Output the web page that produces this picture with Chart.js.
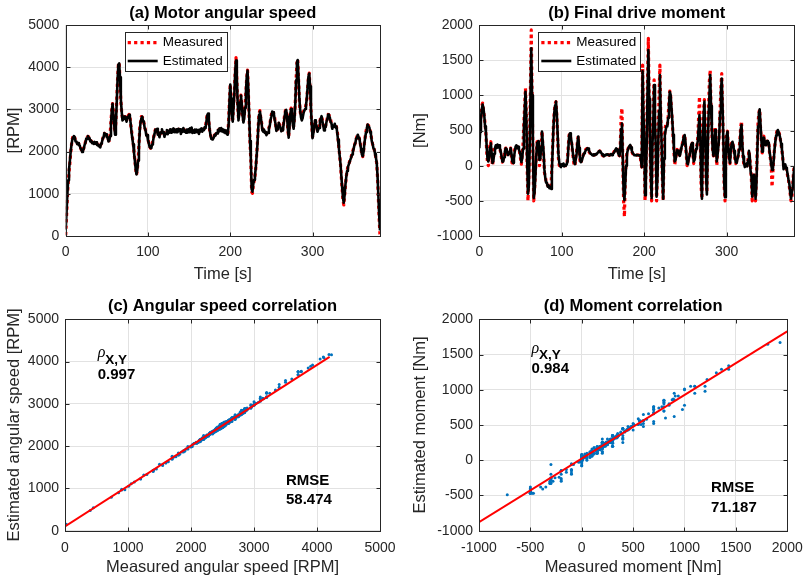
<!DOCTYPE html>
<html>
<head>
<meta charset="utf-8">
<script src="https://cdn.jsdelivr.net/npm/chart.js@4.4.1/dist/chart.umd.min.js"></script>
<style>
  html, body { margin: 0; padding: 0; background: #fff; }
  #wrap { position: relative; width: 812px; height: 579px; background: #fff; }
  #wrap canvas { position: absolute; }
</style>
</head>
<body>
<div id="wrap">
  <canvas id="chartA" width="406" height="290" style="left:0;top:0"></canvas>
  <canvas id="chartB" width="406" height="290" style="left:406px;top:0"></canvas>
  <canvas id="chartC" width="406" height="289" style="left:0;top:290px"></canvas>
  <canvas id="chartD" width="406" height="289" style="left:406px;top:290px"></canvas>
</div>
<script>
// ---- data (1 s samples) ----

const sampleTime = [
  0, 1, 2, 3, 4, 5, 6, 7, 8, 9, 10, 11, 12, 13, 14, 15, 16, 17, 18, 19,
  20, 21, 22, 23, 24, 25, 26, 27, 28, 29, 30, 31, 32, 33, 34, 35, 36, 37, 38, 39,
  40, 41, 42, 43, 44, 45, 46, 47, 48, 49, 50, 51, 52, 53, 54, 55, 56, 57, 58, 59,
  60, 61, 62, 63, 64, 65, 66, 67, 68, 69, 70, 71, 72, 73, 74, 75, 76, 77, 78, 79,
  80, 81, 82, 83, 84, 85, 86, 87, 88, 89, 90, 91, 92, 93, 94, 95, 96, 97, 98, 99,
  100, 101, 102, 103, 104, 105, 106, 107, 108, 109, 110, 111, 112, 113, 114, 115, 116, 117, 118, 119,
  120, 121, 122, 123, 124, 125, 126, 127, 128, 129, 130, 131, 132, 133, 134, 135, 136, 137, 138, 139,
  140, 141, 142, 143, 144, 145, 146, 147, 148, 149, 150, 151, 152, 153, 154, 155, 156, 157, 158, 159,
  160, 161, 162, 163, 164, 165, 166, 167, 168, 169, 170, 171, 172, 173, 174, 175, 176, 177, 178, 179,
  180, 181, 182, 183, 184, 185, 186, 187, 188, 189, 190, 191, 192, 193, 194, 195, 196, 197, 198, 199,
  200, 201, 202, 203, 204, 205, 206, 207, 208, 209, 210, 211, 212, 213, 214, 215, 216, 217, 218, 219,
  220, 221, 222, 223, 224, 225, 226, 227, 228, 229, 230, 231, 232, 233, 234, 235, 236, 237, 238, 239,
  240, 241, 242, 243, 244, 245, 246, 247, 248, 249, 250, 251, 252, 253, 254, 255, 256, 257, 258, 259,
  260, 261, 262, 263, 264, 265, 266, 267, 268, 269, 270, 271, 272, 273, 274, 275, 276, 277, 278, 279,
  280, 281, 282, 283, 284, 285, 286, 287, 288, 289, 290, 291, 292, 293, 294, 295, 296, 297, 298, 299,
  300, 301, 302, 303, 304, 305, 306, 307, 308, 309, 310, 311, 312, 313, 314, 315, 316, 317, 318, 319,
  320, 321, 322, 323, 324, 325, 326, 327, 328, 329, 330, 331, 332, 333, 334, 335, 336, 337, 338, 339,
  340, 341, 342, 343, 344, 345, 346, 347, 348, 349, 350, 351, 352, 353, 354, 355, 356, 357, 358, 359,
  360, 361, 362, 363, 364, 365, 366, 367, 368, 369, 370, 371, 372, 373, 374, 375, 376, 377, 378, 379,
  380, 381, 382
];

// (a) motor angular speed [RPM]
const speedMeasured = [
  /*0*/   20, 450, 900, 1250, 1500, 1700, 1950, 2150, 2300, 2370,
  /*10*/  2390, 2330, 2260, 2230, 2200, 2190, 2180, 2140, 2100, 2040,
  /*20*/  2000, 2020, 2090, 2150, 2230, 2300, 2330, 2360, 2350, 2310,
  /*30*/  2270, 2250, 2230, 2210, 2210, 2220, 2210, 2210, 2190, 2160,
  /*40*/  2150, 2130, 2130, 2180, 2250, 2300, 2380, 2430, 2420, 2400,
  /*50*/  2380, 2330, 2280, 2260, 2420, 2700, 3000, 3140, 2850, 2600,
  /*60*/  2450, 2700, 3200, 3700, 4050, 4110, 3700, 3200, 2950, 2790,
  /*70*/  2800, 2820, 2830, 2780, 2760, 2800, 2850, 2880, 2850, 2650,
  /*80*/  2500, 2350, 2200, 2000, 1800, 1600, 1450, 1550, 1800, 2150,
  /*90*/  2550, 2700, 2830, 2820, 2760, 2680, 2600, 2500, 2420, 2380,
  /*100*/ 2290, 2200, 2130, 2080, 2100, 2180, 2250, 2350, 2450, 2520,
  /*110*/ 2550, 2520, 2450, 2400, 2380, 2420, 2460, 2490, 2500, 2450,
  /*120*/ 2400, 2400, 2440, 2460, 2470, 2480, 2480, 2490, 2500, 2500,
  /*130*/ 2510, 2520, 2520, 2500, 2490, 2490, 2510, 2530, 2530, 2500,
  /*140*/ 2480, 2480, 2500, 2520, 2520, 2490, 2470, 2470, 2490, 2510,
  /*150*/ 2510, 2520, 2530, 2530, 2500, 2480, 2480, 2490, 2510, 2510,
  /*160*/ 2490, 2470, 2470, 2500, 2520, 2520, 2530, 2530, 2530, 2560,
  /*170*/ 2600, 2750, 2870, 2890, 2700, 2500, 2400, 2340, 2340, 2350,
  /*180*/ 2360, 2390, 2410, 2430, 2470, 2500, 2520, 2530, 2540, 2540,
  /*190*/ 2520, 2510, 2500, 2490, 2480, 2480, 2450, 2420, 2700, 3200,
  /*200*/ 3600, 3200, 2850, 2760, 3100, 3400, 3900, 4230, 3700, 3100,
  /*210*/ 2790, 2950, 3200, 3340, 3100, 2850, 2740, 2850, 3070, 3400,
  /*220*/ 3750, 3930, 3400, 2800, 2200, 1800, 1050, 1010, 1200, 1300,
  /*230*/ 1400, 1600, 1900, 2200, 2600, 2900, 2970, 2820, 2700, 2560,
  /*240*/ 2510, 2500, 2480, 2450, 2430, 2440, 2480, 2550, 2650, 2760,
  /*250*/ 2880, 2960, 2960, 2870, 2800, 2650, 2530, 2520, 2600, 2670,
  /*260*/ 2640, 2570, 2530, 2510, 2540, 2700, 2850, 2970, 3000, 2800,
  /*270*/ 2500, 2350, 2650, 2950, 3030, 2850, 2650, 2590, 2800, 3150,
  /*280*/ 3700, 4100, 4190, 3700, 3200, 2950, 2830, 2790, 2850, 2950,
  /*290*/ 3000, 3030, 3100, 3250, 3500, 3750, 3860, 3500, 3000, 2650,
  /*300*/ 2350, 2450, 2600, 2750, 2700, 2600, 2520, 2520, 2600, 2720,
  /*310*/ 2820, 2830, 2750, 2620, 2550, 2560, 2620, 2700, 2800, 2880,
  /*320*/ 2870, 2800, 2750, 2660, 2590, 2600, 2640, 2650, 2620, 2590,
  /*330*/ 2500, 2300, 2100, 1900, 1700, 1400, 1100, 850, 735, 950,
  /*340*/ 1200, 1400, 1550, 1640, 1700, 1760, 1820, 1880, 1950, 2020,
  /*350*/ 2080, 2150, 2220, 2300, 2360, 2390, 2370, 2300, 2200, 2050,
  /*360*/ 1920, 1880, 2000, 2200, 2350, 2480, 2580, 2630, 2620, 2570,
  /*370*/ 2500, 2400, 2270, 2180, 2100, 2050, 1950, 1850, 1720, 1400,
  /*380*/ 900, 400, 0
];
const speedEstimated = [
  /*0*/   150, 540, 980, 1320, 1570, 1760, 1990, 2160, 2280, 2340,
  /*10*/  2370, 2340, 2240, 2240, 2180, 2200, 2150, 2150, 2080, 2050,
  /*20*/  1990, 2030, 2070, 2160, 2210, 2310, 2300, 2370, 2320, 2320,
  /*30*/  2240, 2260, 2200, 2220, 2180, 2230, 2190, 2220, 2160, 2170,
  /*40*/  2130, 2140, 2100, 2190, 2220, 2310, 2340, 2440, 2390, 2410,
  /*50*/  2340, 2340, 2240, 2270, 2370, 2660, 2970, 3130, 2890, 2620,
  /*60*/  2400, 2630, 3150, 3690, 4060, 4090, 3760, 3250, 2960, 2740,
  /*70*/  2760, 2830, 2780, 2800, 2710, 2820, 2800, 2870, 2810, 2670,
  /*80*/  2460, 2310, 2170, 1980, 1790, 1600, 1460, 1560, 1790, 2110,
  /*90*/  2500, 2690, 2790, 2830, 2720, 2690, 2560, 2510, 2380, 2390,
  /*100*/ 2270, 2200, 2110, 2090, 2080, 2170, 2230, 2350, 2420, 2520,
  /*110*/ 2520, 2540, 2400, 2410, 2340, 2450, 2440, 2530, 2440, 2470,
  /*120*/ 2350, 2430, 2420, 2510, 2410, 2490, 2450, 2530, 2450, 2520,
  /*130*/ 2470, 2550, 2460, 2520, 2460, 2530, 2460, 2540, 2490, 2530,
  /*140*/ 2420, 2500, 2470, 2560, 2470, 2500, 2450, 2520, 2450, 2530,
  /*150*/ 2460, 2550, 2510, 2570, 2440, 2500, 2450, 2520, 2460, 2520,
  /*160*/ 2460, 2510, 2420, 2520, 2480, 2550, 2470, 2540, 2510, 2580,
  /*170*/ 2560, 2710, 2860, 2900, 2740, 2520, 2380, 2300, 2290, 2310,
  /*180*/ 2330, 2400, 2380, 2440, 2430, 2510, 2470, 2550, 2490, 2560,
  /*190*/ 2480, 2530, 2460, 2510, 2440, 2500, 2410, 2400, 2640, 3160,
  /*200*/ 3590, 3260, 2860, 2710, 3060, 3380, 3890, 4160, 3760, 3160,
  /*210*/ 2740, 2900, 3170, 3330, 3130, 2860, 2690, 2800, 3040, 3390,
  /*220*/ 3760, 3920, 3460, 2850, 2250, 1840, 1110, 1050, 1230, 1330,
  /*230*/ 1430, 1610, 1880, 2160, 2540, 2870, 2950, 2840, 2680, 2510,
  /*240*/ 2470, 2520, 2440, 2470, 2390, 2450, 2440, 2560, 2610, 2750,
  /*250*/ 2840, 2950, 2930, 2890, 2760, 2660, 2490, 2530, 2560, 2680,
  /*260*/ 2610, 2580, 2480, 2530, 2500, 2680, 2810, 2960, 2990, 2830,
  /*270*/ 2540, 2330, 2580, 2900, 3010, 2880, 2660, 2540, 2750, 3120,
  /*280*/ 3690, 4110, 4170, 3760, 3260, 2980, 2810, 2740, 2800, 2910,
  /*290*/ 2970, 3010, 3090, 3250, 3510, 3770, 3850, 3550, 3050, 2670,
  /*300*/ 2320, 2440, 2560, 2740, 2660, 2610, 2470, 2530, 2560, 2720,
  /*310*/ 2780, 2840, 2710, 2630, 2500, 2570, 2580, 2710, 2760, 2880,
  /*320*/ 2840, 2810, 2700, 2670, 2540, 2610, 2590, 2660, 2570, 2600,
  /*330*/ 2450, 2280, 2090, 1900, 1710, 1430, 1150, 900, 790, 970,
  /*340*/ 1220, 1400, 1540, 1630, 1690, 1750, 1810, 1860, 1930, 1990,
  /*350*/ 2070, 2160, 2200, 2310, 2330, 2400, 2340, 2310, 2180, 2060,
  /*360*/ 1930, 1890, 1990, 2190, 2330, 2460, 2560, 2640, 2590, 2580,
  /*370*/ 2470, 2410, 2250, 2190, 2080, 2060, 1940, 1860, 1740, 1430,
  /*380*/ 960, 480, 130
];

// (b) final drive moment [Nm]
const momentMeasured = [
  /*0*/   400, 600, 700, 850, 890, 800, 700, 600, 450, 200,
  /*10*/  30, 0, 150, 300, 340, 120, 0, 100, 200, 270,
  /*20*/  280, 280, 280, 280, 280, 240, 180, 100, 50, 90,
  /*30*/  150, 220, 250, 220, 170, 130, 180, 210, 250, 120,
  /*40*/  0, 80, 150, 230, 280, 275, 270, 260, 250, 180,
  /*50*/  100, 20, 150, 300, 600, 850, 1100, 700, 0, -500,
  /*60*/  -200, 300, 1100, 1930, 1000, 200, -500, -350, -100, 150,
  /*70*/  340, 345, 340, 0, 150, 300, 490, 300, 150, -100,
  /*80*/  -150, -220, -260, -280, -300, -310, -310, -310, 0, 300,
  /*90*/  600, 780, 880, 910, 700, 400, 100, 0, 0, 0,
  /*100*/ 0, 0, 0, 0, 0, 0, 0, 100, 300, 440,
  /*110*/ 460, 380, 320, 200, 100, 0, 0, 120, 200, 340,
  /*120*/ 420, 200, 80, 30, 80, 120, 150, 176, 200, 230,
  /*130*/ 240, 247, 230, 200, 180, 160, 150, 140, 145, 150,
  /*140*/ 155, 160, 170, 180, 190, 200, 210, 190, 170, 150,
  /*150*/ 140, 140, 145, 150, 155, 160, 155, 150, 150, 155,
  /*160*/ 160, 160, 170, 190, 210, 230, 247, 220, 180, 150,
  /*170*/ 140, 300, 700, 815, 50, -500, -725, -200, 50, 175,
  /*180*/ 230, 260, 290, 294, 240, 200, 170, 160, 155, 150,
  /*190*/ 150, 150, 150, 150, 150, 150, 50, -20, 1430, 700,
  /*200*/ 300, -500, -100, 400, 1200, 1810, 900, 300, -200, -500,
  /*210*/ 400, 900, 1220, 600, 200, -500, -100, 400, 1000, 1430,
  /*220*/ 700, 300, -200, -500, 200, 500, 578, 560, 570, 700,
  /*230*/ 900, 1060, 1000, 800, 650, 400, 200, 10, 100, 180,
  /*240*/ 230, 200, 160, 150, 200, 260, 300, 360, 420, 440,
  /*250*/ 300, 150, 0, 50, 120, 150, 240, 310, 320, 150,
  /*260*/ 30, 100, 190, 250, 290, 400, 700, 980, 400, -300,
  /*270*/ -470, 300, 800, 940, 400, -200, -380, 300, 800, 1200,
  /*280*/ 1360, 800, 500, 200, 140, 300, 550, 200, 0, 200,
  /*290*/ 300, 460, 800, 1100, 1310, 800, 300, -300, -500, 200,
  /*300*/ 450, 490, 200, 80, 30, 250, 320, 340, 280, 200,
  /*310*/ 100, 30, 50, 100, 140, 250, 350, 550, 630, 250,
  /*320*/ 100, 0, 0, 10, 0, 0, 100, 210, 100, 0,
  /*330*/ -200, -500, -300, -100, -300, -500, -200, 200, 600, 750,
  /*340*/ 800, 550, 350, 180, 300, 420, 350, 280, 300, 350,
  /*350*/ 340, 330, 180, 100, 0, -300, -100, 100, 250, 350,
  /*360*/ 440, 490, 507, 480, 450, 380, 300, 220, 100, 0,
  /*370*/ 0, 10, -30, -80, -150, -200, -300, -400, -500, -480,
  /*380*/ -300, -100, 0
];
const momentEstimated = [
  /*0*/   250, 480, 660, 800, 870, 820, 720, 560, 480, 260,
  /*10*/  90, 60, 120, 260, 318, 180, 40, 60, 170, 250,
  /*20*/  290, 250, 300, 260, 290, 250, 200, 130, 57, 60,
  /*30*/  120, 200, 247, 240, 190, 150, 150, 190, 247, 170,
  /*40*/  60, 40, 110, 200, 270, 290, 250, 270, 230, 200,
  /*50*/  140, 50, 100, 240, 520, 780, 1050, 720, 80, -400,
  /*60*/  -300, 200, 950, 1670, 1000, 300, -460, -380, -150, 100,
  /*70*/  320, 341, 350, 80, 100, 260, 484, 340, 190, -60,
  /*80*/  -170, -240, -250, -300, -280, -320, -300, -330, -80, 240,
  /*90*/  560, 760, 860, 910, 740, 450, 160, 40, 0, -20,
  /*100*/ 20, 0, 30, -10, 10, 0, 20, 60, 250, 430,
  /*110*/ 460, 400, 330, 230, 130, 60, 20, 90, 170, 320,
  /*120*/ 413, 250, 120, 50, 60, 100, 140, 176, 190, 215,
  /*130*/ 230, 247, 245, 215, 190, 170, 165, 150, 145, 160,
  /*140*/ 150, 165, 160, 175, 190, 205, 210, 200, 180, 160,
  /*150*/ 145, 135, 150, 145, 160, 155, 160, 150, 145, 160,
  /*160*/ 165, 150, 165, 180, 200, 225, 247, 230, 190, 160,
  /*170*/ 140, 250, 520, 600, 100, -380, -490, -260, 0, 160,
  /*180*/ 220, 250, 280, 294, 260, 210, 180, 165, 150, 150,
  /*190*/ 145, 155, 150, 150, 145, 150, 90, -20, 1340, 760,
  /*200*/ 350, -420, -200, 300, 1050, 1645, 950, 350, -150, -460,
  /*210*/ 300, 620, 1147, 650, 250, -440, -180, 320, 780, 1290,
  /*220*/ 760, 350, -150, -470, 100, 430, 507, 560, 560, 680,
  /*230*/ 860, 1050, 1010, 830, 660, 440, 250, 60, 80, 170,
  /*240*/ 220, 210, 170, 140, 180, 250, 300, 350, 410, 436,
  /*250*/ 340, 190, 40, 20, 100, 140, 220, 300, 320, 190,
  /*260*/ 60, 80, 170, 240, 290, 350, 550, 720, 450, -200,
  /*270*/ -470, 200, 700, 910, 450, -150, -410, 200, 700, 980,
  /*280*/ 1290, 850, 520, 230, 140, 280, 507, 240, 60, 160,
  /*290*/ 280, 440, 760, 1050, 1240, 850, 350, -250, -450, 120,
  /*300*/ 430, 484, 250, 110, 40, 220, 310, 340, 290, 210,
  /*310*/ 120, 50, 40, 90, 140, 230, 330, 510, 580, 300,
  /*320*/ 130, 40, -20, 10, 30, -10, 80, 210, 130, -80,
  /*330*/ -150, -440, -330, -130, -260, -470, -280, 120, 560, 740,
  /*340*/ 800, 590, 380, 200, 280, 400, 360, 290, 290, 350,
  /*350*/ 340, 330, 200, 120, 20, -60, -50, 70, 230, 340,
  /*360*/ 430, 480, 507, 480, 440, 390, 310, 230, 120, -50,
  /*370*/ 10, 20, -30, -60, -130, -200, -260, -380, -470, -470,
  /*380*/ -320, -140, -20
];

// regression lines of the correlation plots (end points)
const speedFitX = [0, 4200];
const speedFitY = [100, 4110];
const momentFitX = [-1000, 2000];
const momentFitY = [-880, 1830];

// statistics printed in the correlation plots
const speedRho = '0.997';
const speedRmse = '58.474';
const momentRho = '0.984';
const momentRmse = '71.187';

// tick labels
const timeTicks = [0, 100, 200, 300];
const speedTicks = [0, 1000, 2000, 3000, 4000, 5000];
const momentTicks = [-1000, -500, 0, 500, 1000, 1500, 2000];

// ---- styling ----
const axisCol = '#262626';
const gridCol = '#e2e2e2';
const fontFam = '"Liberation Sans", Arial, Helvetica, sans-serif';
Chart.defaults.font.family = fontFam;
Chart.defaults.color = axisCol;

function xyPairs(xs, ys) {
  return xs.map((v, i) => ({ x: v, y: ys[i] }));
}

function linAxis(min, max, ticks, o) {
  return {
    type: 'linear', min: min, max: max,
    afterBuildTicks: s => { s.ticks = ticks.map(v => ({ value: v })); },
    afterFit: s => {
      if (o.w) s.width = o.w;
      if (o.h) s.height = o.h;
    },
    grid: { color: gridCol, lineWidth: 1, drawTicks: false },
    border: { display: false },
    ticks: { color: axisCol, font: { size: 14 }, padding: o.pad, maxRotation: 0, minRotation: 0,
             autoSkip: false, callback: v => String(v) },
    title: o.title
      ? { display: true, text: o.title, color: axisCol, font: { size: 16.5 }, padding: { top: 0, bottom: o.titlePad } }
      : { display: false }
  };
}

// matlab look: boxed axes, inner ticks, legend, text notes, y label
const decor = {
  id: 'mDecor',
  afterDraw(chart, args, o) {
    const { ctx, chartArea: a, scales: { x, y } } = chart;
    ctx.save();
    ctx.setLineDash([]);

    if (o.legend) {
      const L = o.legend;
      const bx = a.left + L.dx, by = a.top + L.dy;
      ctx.fillStyle = '#fff';
      ctx.fillRect(bx, by, L.w, L.h);
      ctx.strokeStyle = axisCol; ctx.lineWidth = 1;
      ctx.strokeRect(Math.round(bx) + 0.5, Math.round(by) + 0.5, L.w, L.h);
      chart.data.datasets.forEach((ds, i) => {
        const cy = by + L.rows[i];
        ctx.strokeStyle = ds.borderColor;
        ctx.lineWidth = ds.borderWidth;
        ctx.setLineDash(ds.borderDash || []);
        ctx.beginPath(); ctx.moveTo(bx + L.s0, cy); ctx.lineTo(bx + L.s1, cy); ctx.stroke();
        ctx.setLineDash([]);
        ctx.fillStyle = '#000';
        ctx.font = '13.5px ' + fontFam;
        ctx.textAlign = 'left'; ctx.textBaseline = 'middle';
        ctx.fillText(ds.label, bx + L.tx, cy);
      });
    }

    (o.notes || []).forEach(n => {
      ctx.fillStyle = '#000';
      ctx.font = n.font;
      ctx.textAlign = 'left'; ctx.textBaseline = 'middle';
      ctx.fillText(n.text, x.getPixelForValue(n.x) + (n.dx || 0), y.getPixelForValue(n.y) + (n.dy || 0));
    });

    ctx.strokeStyle = axisCol; ctx.lineWidth = 1;
    const l = Math.round(a.left) + 0.5, r = Math.round(a.right) + 0.5;
    const t = Math.round(a.top) + 0.5, b = Math.round(a.bottom) + 0.5;
    ctx.strokeRect(l, t, r - l, b - t);
    ctx.beginPath();
    x.ticks.forEach(tk => {
      const px = Math.round(x.getPixelForValue(tk.value)) + 0.5;
      ctx.moveTo(px, b); ctx.lineTo(px, b - 4);
      ctx.moveTo(px, t); ctx.lineTo(px, t + 4);
    });
    y.ticks.forEach(tk => {
      const py = Math.round(y.getPixelForValue(tk.value)) + 0.5;
      ctx.moveTo(l, py); ctx.lineTo(l + 4, py);
      ctx.moveTo(r, py); ctx.lineTo(r - 4, py);
    });
    ctx.stroke();

    ctx.translate(o.yTitleX, (a.top + a.bottom) / 2);
    ctx.rotate(-Math.PI / 2);
    ctx.fillStyle = axisCol;
    ctx.font = '16.5px ' + fontFam;
    ctx.textAlign = 'center'; ctx.textBaseline = 'middle';
    ctx.fillText(o.yTitle, 0, 0);
    ctx.restore();
  }
};

function lineSets(t, meas, est) {
  return [
    { label: 'Measured', data: xyPairs(t, meas), showLine: true, borderColor: '#ff0000',
      borderWidth: 3.2, borderDash: [3.2, 3.2], borderJoinStyle: 'round', pointRadius: 0, order: 2 },
    { label: 'Estimated', data: xyPairs(t, est), showLine: true, borderColor: '#000000',
      borderWidth: 2.6, borderJoinStyle: 'round', pointRadius: 0, order: 1 }
  ];
}

function corrSets(meas, est, fitX, fitY) {
  return [
    { label: 'Samples', data: xyPairs(meas, est), pointRadius: 1.5, backgroundColor: '#0072bd',
      borderColor: '#0072bd', pointBorderWidth: 0, order: 2 },
    { label: 'Fit', data: xyPairs(fitX, fitY), showLine: true, borderColor: '#ff0000',
      borderWidth: 2, pointRadius: 0, order: 1 }
  ];
}

function panel(id, cfg) {
  return new Chart(document.getElementById(id), {
    type: 'scatter',
    data: { datasets: cfg.datasets },
    options: {
      responsive: false, animation: false, devicePixelRatio: 1,
      layout: { padding: { left: 0, right: cfg.padRight, top: 0, bottom: 0 } },
      scales: { x: cfg.x, y: cfg.y },
      plugins: {
        legend: { display: false },
        tooltip: { enabled: false },
        title: { display: true, text: cfg.title, color: '#000', fullSize: false,
                 font: { size: 16.5, weight: 'bold' }, padding: cfg.titlePad },
        mDecor: cfg.decor
      }
    },
    plugins: [decor]
  });
}

const legendCfg = { dx: 59, dy: 6.7, w: 102, h: 39, s0: 3, s1: 33, tx: 38, rows: [11, 29.3] };
const bold15 = 'bold 15px ' + fontFam;
const rhoFont = 'italic 16px "Liberation Serif", "DejaVu Serif", serif';
const subFont = 'bold 13.5px ' + fontFam;

panel('chartA', {
  title: '(a) Motor angular speed',
  titlePad: { top: 3.1, bottom: 2.1 },
  padRight: 26,
  datasets: lineSets(sampleTime, speedMeasured, speedEstimated),
  x: linAxis(0, 382, timeTicks, { h: 54, pad: 7.8, title: 'Time [s]', titlePad: 6.1 }),
  y: linAxis(0, 5000, speedTicks, { w: 65.7, pad: 6.4 }),
  decor: { legend: legendCfg, yTitle: '[RPM]', yTitleX: 14 }
});

panel('chartB', {
  title: '(b) Final drive moment',
  titlePad: { top: 3.1, bottom: 2.1 },
  padRight: 17.7,
  datasets: lineSets(sampleTime, momentMeasured, momentEstimated),
  x: linAxis(0, 382, timeTicks, { h: 54, pad: 7.8, title: 'Time [s]', titlePad: 6.1 }),
  y: linAxis(-1000, 2000, momentTicks, { w: 73.3, pad: 6.4 }),
  decor: { legend: legendCfg, yTitle: '[Nm]', yTitleX: 14 }
});

panel('chartC', {
  title: '(c) Angular speed correlation',
  titlePad: { top: 6.8, bottom: 2.7 },
  padRight: 26,
  datasets: corrSets(speedMeasured, speedEstimated, speedFitX, speedFitY),
  x: linAxis(0, 5000, speedTicks, { h: 48.3, pad: 9.2, title: 'Measured angular speed [RPM]', titlePad: 2.1 }),
  y: linAxis(0, 5000, speedTicks, { w: 65, pad: 6 }),
  decor: {
    yTitle: 'Estimated angular speed [RPM]', yTitleX: 14,
    notes: [
      { x: 519, y: 4196, text: 'ρ', font: rhoFont },
      { x: 519, y: 4196, dx: 7.5, dy: 6.5, text: 'X,Y', font: subFont },
      { x: 519, y: 3676, text: speedRho, font: bold15 },
      { x: 3508, y: 1187, text: 'RMSE', font: bold15 },
      { x: 3508, y: 726, text: speedRmse, font: bold15 }
    ]
  }
});

panel('chartD', {
  title: '(d) Moment correlation',
  titlePad: { top: 6.8, bottom: 2.7 },
  padRight: 18,
  datasets: corrSets(momentMeasured, momentEstimated, momentFitX, momentFitY),
  x: linAxis(-1000, 2000, momentTicks, { h: 48.3, pad: 9.2, title: 'Measured moment [Nm]', titlePad: 2.1 }),
  y: linAxis(-1000, 2000, momentTicks, { w: 73, pad: 6 }),
  decor: {
    yTitle: 'Estimated moment [Nm]', yTitleX: 14,
    notes: [
      { x: -489, y: 1584, text: 'ρ', font: rhoFont },
      { x: -489, y: 1584, dx: 7.5, dy: 6.5, text: 'X,Y', font: subFont },
      { x: -489, y: 1300, text: momentRho, font: bold15 },
      { x: 1257, y: -389, text: 'RMSE', font: bold15 },
      { x: 1257, y: -673, text: momentRmse, font: bold15 }
    ]
  }
});
</script>
</body>
</html>
